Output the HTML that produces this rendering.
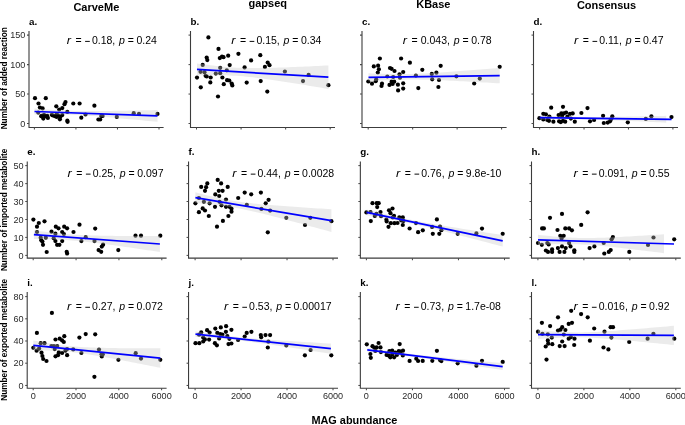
<!DOCTYPE html>
<html><head><meta charset="utf-8"><style>
html,body{margin:0;padding:0;background:#fff;width:685px;height:425px;overflow:hidden}
svg text{font-family:"Liberation Sans",sans-serif}
</style></head><body>
<svg width="685" height="425" viewBox="0 0 685 425" style="display:block;will-change:transform">
<rect width="685" height="425" fill="#fff"/>
<text x="73.4" y="10.5" font-size="11" font-weight="bold" fill="#000">CarveMe</text>
<text x="248.5" y="6.9" font-size="11" font-weight="bold" fill="#000">gapseq</text>
<text x="416.2" y="7.9" font-size="11" font-weight="bold" fill="#000">KBase</text>
<text x="576.9" y="9.4" font-size="11" font-weight="bold" fill="#000">Consensus</text>
<text transform="translate(7.3,78.25) rotate(-90)" text-anchor="middle" font-size="8.25" font-weight="bold" fill="#000">Number of added reaction</text>
<text transform="translate(7.3,209.9) rotate(-90)" text-anchor="middle" font-size="8.25" font-weight="bold" fill="#000">Number of imported metabolite</text>
<text transform="translate(7.3,339.85) rotate(-90)" text-anchor="middle" font-size="8.25" font-weight="bold" fill="#000">Number of exported metabolite</text>
<text x="354.4" y="423.6" text-anchor="middle" font-size="10.9" font-weight="bold" fill="#000">MAG abundance</text>
<text x="29.00" y="24.9" font-size="9.8" font-weight="bold" fill="#000">a.</text>
<circle cx="35.00" cy="98.20" r="2.1" fill="#000"/>
<circle cx="45.80" cy="98.20" r="2.1" fill="#000"/>
<circle cx="38.50" cy="103.50" r="2.1" fill="#000"/>
<circle cx="39.90" cy="107.60" r="2.1" fill="#000"/>
<circle cx="42.60" cy="108.40" r="2.1" fill="#000"/>
<circle cx="38.20" cy="112.60" r="2.1" fill="#000"/>
<circle cx="41.90" cy="115.80" r="2.1" fill="#000"/>
<circle cx="43.30" cy="118.60" r="2.1" fill="#000"/>
<circle cx="45.40" cy="116.20" r="2.1" fill="#000"/>
<circle cx="47.20" cy="115.80" r="2.1" fill="#000"/>
<circle cx="47.90" cy="117.90" r="2.1" fill="#000"/>
<circle cx="44.00" cy="114.80" r="2.1" fill="#000"/>
<circle cx="56.30" cy="106.30" r="2.1" fill="#000"/>
<circle cx="52.80" cy="115.50" r="2.1" fill="#000"/>
<circle cx="54.90" cy="116.20" r="2.1" fill="#000"/>
<circle cx="56.70" cy="116.90" r="2.1" fill="#000"/>
<circle cx="58.10" cy="115.50" r="2.1" fill="#000"/>
<circle cx="59.90" cy="119.30" r="2.1" fill="#000"/>
<circle cx="59.20" cy="109.50" r="2.1" fill="#000"/>
<circle cx="62.30" cy="108.10" r="2.1" fill="#000"/>
<circle cx="62.30" cy="115.10" r="2.1" fill="#000"/>
<circle cx="64.50" cy="104.20" r="2.1" fill="#000"/>
<circle cx="65.50" cy="102.10" r="2.1" fill="#000"/>
<circle cx="67.30" cy="111.90" r="2.1" fill="#000"/>
<circle cx="67.30" cy="120.70" r="2.1" fill="#000"/>
<circle cx="67.60" cy="121.80" r="2.1" fill="#000"/>
<circle cx="56.70" cy="114.00" r="2.1" fill="#000"/>
<circle cx="51.80" cy="114.80" r="2.1" fill="#000"/>
<circle cx="60.20" cy="116.90" r="2.1" fill="#000"/>
<circle cx="41.20" cy="116.20" r="2.1" fill="#000"/>
<circle cx="73.30" cy="103.50" r="2.1" fill="#000"/>
<circle cx="79.60" cy="103.50" r="2.1" fill="#000"/>
<circle cx="94.40" cy="105.70" r="2.1" fill="#000"/>
<circle cx="85.50" cy="114.50" r="2.1" fill="#000"/>
<circle cx="81.30" cy="117.70" r="2.1" fill="#000"/>
<circle cx="101.30" cy="115.90" r="2.1" fill="#000"/>
<circle cx="102.60" cy="115.90" r="2.1" fill="#000"/>
<circle cx="98.40" cy="119.50" r="2.1" fill="#000"/>
<circle cx="100.20" cy="119.50" r="2.1" fill="#000"/>
<circle cx="116.80" cy="116.90" r="2.1" fill="#000"/>
<circle cx="133.70" cy="113.20" r="2.1" fill="#000"/>
<circle cx="139.00" cy="113.90" r="2.1" fill="#000"/>
<circle cx="157.50" cy="113.90" r="2.1" fill="#000"/>
<path d="M34.50 108.60 L37.58 108.84 L40.65 109.08 L43.73 109.31 L46.80 109.53 L49.88 109.74 L52.95 109.94 L56.02 110.13 L59.10 110.30 L62.17 110.45 L65.25 110.59 L68.33 110.71 L71.40 110.81 L74.47 110.89 L77.55 110.96 L80.62 111.01 L83.70 111.04 L86.78 111.06 L89.85 111.07 L92.92 111.07 L96.00 111.06 L99.08 111.04 L102.15 111.02 L105.22 110.98 L108.30 110.95 L111.38 110.91 L114.45 110.86 L117.53 110.81 L120.60 110.76 L123.67 110.71 L126.75 110.65 L129.82 110.59 L132.90 110.53 L135.97 110.47 L139.05 110.40 L142.12 110.34 L145.20 110.27 L148.28 110.21 L151.35 110.14 L154.43 110.07 L157.50 110.00 L157.50 121.80 L154.43 121.51 L151.35 121.22 L148.28 120.93 L145.20 120.65 L142.12 120.36 L139.05 120.08 L135.97 119.79 L132.90 119.51 L129.82 119.23 L126.75 118.95 L123.67 118.67 L120.60 118.40 L117.53 118.13 L114.45 117.86 L111.38 117.59 L108.30 117.33 L105.22 117.08 L102.15 116.82 L99.08 116.58 L96.00 116.34 L92.92 116.11 L89.85 115.89 L86.78 115.68 L83.70 115.48 L80.62 115.29 L77.55 115.12 L74.47 114.97 L71.40 114.83 L68.33 114.71 L65.25 114.61 L62.17 114.53 L59.10 114.46 L56.02 114.41 L52.95 114.38 L49.88 114.36 L46.80 114.35 L43.73 114.35 L40.65 114.36 L37.58 114.38 L34.50 114.40 Z" fill="rgb(198,198,198)" fill-opacity="0.353"/>
<line x1="34.5" y1="111.5" x2="157.5" y2="115.9" stroke="#0000ff" stroke-width="1.7"/>
<path d="M29.00 31.00 V127.50 H163.60" fill="none" stroke="#3c3c3c" stroke-width="1.1"/>
<line x1="27.00" y1="123.50" x2="29.00" y2="123.50" stroke="#4a4a4a" stroke-width="1.05"/>
<text x="25.40" y="126.60" text-anchor="end" font-size="9.1" fill="#2a2a2a">0</text>
<line x1="27.00" y1="94.05" x2="29.00" y2="94.05" stroke="#4a4a4a" stroke-width="1.05"/>
<text x="25.40" y="97.15" text-anchor="end" font-size="9.1" fill="#2a2a2a">50</text>
<line x1="27.00" y1="64.60" x2="29.00" y2="64.60" stroke="#4a4a4a" stroke-width="1.05"/>
<text x="25.40" y="67.70" text-anchor="end" font-size="9.1" fill="#2a2a2a">100</text>
<line x1="27.00" y1="35.10" x2="29.00" y2="35.10" stroke="#4a4a4a" stroke-width="1.05"/>
<text x="25.40" y="38.20" text-anchor="end" font-size="9.1" fill="#2a2a2a">150</text>
<line x1="34.40" y1="127.50" x2="34.40" y2="129.50" stroke="#4a4a4a" stroke-width="1.05"/>
<line x1="75.93" y1="127.50" x2="75.93" y2="129.50" stroke="#4a4a4a" stroke-width="1.05"/>
<line x1="117.47" y1="127.50" x2="117.47" y2="129.50" stroke="#4a4a4a" stroke-width="1.05"/>
<line x1="159.00" y1="127.50" x2="159.00" y2="129.50" stroke="#4a4a4a" stroke-width="1.05"/>
<text transform="translate(66.69,43.95) scale(1.22,1)" font-size="10.5" font-style="italic" fill="#000">r</text>
<text x="75.47" y="43.95" font-size="10.5" fill="#000">=</text>
<rect x="85.10" y="40.90" width="4.7" height="0.95" fill="#000"/>
<text x="91.88" y="43.95" font-size="10.5" fill="#000">0.18,</text>
<text x="119.05" y="43.95" font-size="10.5" font-style="italic" fill="#000">p</text>
<text x="127.81" y="43.95" font-size="10.5" fill="#000">=</text>
<text x="136.42" y="43.95" font-size="10.5" fill="#000">0.24</text>
<text x="190.50" y="24.9" font-size="9.8" font-weight="bold" fill="#000">b.</text>
<circle cx="208.40" cy="37.40" r="2.1" fill="#000"/>
<circle cx="218.50" cy="48.90" r="2.1" fill="#000"/>
<circle cx="206.70" cy="57.60" r="2.1" fill="#000"/>
<circle cx="207.30" cy="60.10" r="2.1" fill="#000"/>
<circle cx="219.80" cy="58.10" r="2.1" fill="#000"/>
<circle cx="222.00" cy="56.50" r="2.1" fill="#000"/>
<circle cx="223.50" cy="57.20" r="2.1" fill="#000"/>
<circle cx="228.20" cy="55.70" r="2.1" fill="#000"/>
<circle cx="238.40" cy="53.80" r="2.1" fill="#000"/>
<circle cx="251.10" cy="60.40" r="2.1" fill="#000"/>
<circle cx="260.30" cy="55.20" r="2.1" fill="#000"/>
<circle cx="202.70" cy="64.90" r="2.1" fill="#000"/>
<circle cx="229.70" cy="65.10" r="2.1" fill="#000"/>
<circle cx="244.60" cy="67.40" r="2.1" fill="#000"/>
<circle cx="220.20" cy="67.80" r="2.1" fill="#000"/>
<circle cx="226.80" cy="70.30" r="2.1" fill="#000"/>
<circle cx="200.50" cy="71.80" r="2.1" fill="#000"/>
<circle cx="204.50" cy="72.20" r="2.1" fill="#000"/>
<circle cx="215.80" cy="73.60" r="2.1" fill="#000"/>
<circle cx="220.20" cy="73.20" r="2.1" fill="#000"/>
<circle cx="197.00" cy="77.60" r="2.1" fill="#000"/>
<circle cx="205.60" cy="75.80" r="2.1" fill="#000"/>
<circle cx="206.70" cy="76.50" r="2.1" fill="#000"/>
<circle cx="210.70" cy="77.50" r="2.1" fill="#000"/>
<circle cx="210.30" cy="82.40" r="2.1" fill="#000"/>
<circle cx="222.40" cy="77.50" r="2.1" fill="#000"/>
<circle cx="227.10" cy="80.20" r="2.1" fill="#000"/>
<circle cx="229.30" cy="80.50" r="2.1" fill="#000"/>
<circle cx="231.70" cy="83.60" r="2.1" fill="#000"/>
<circle cx="232.30" cy="85.40" r="2.1" fill="#000"/>
<circle cx="223.80" cy="84.20" r="2.1" fill="#000"/>
<circle cx="246.70" cy="82.60" r="2.1" fill="#000"/>
<circle cx="260.70" cy="81.10" r="2.1" fill="#000"/>
<circle cx="200.80" cy="87.30" r="2.1" fill="#000"/>
<circle cx="218.00" cy="96.50" r="2.1" fill="#000"/>
<circle cx="267.70" cy="62.60" r="2.1" fill="#000"/>
<circle cx="269.50" cy="65.20" r="2.1" fill="#000"/>
<circle cx="264.90" cy="66.90" r="2.1" fill="#000"/>
<circle cx="267.30" cy="91.60" r="2.1" fill="#000"/>
<circle cx="284.90" cy="71.50" r="2.1" fill="#000"/>
<circle cx="308.60" cy="74.90" r="2.1" fill="#000"/>
<circle cx="303.00" cy="81.10" r="2.1" fill="#000"/>
<circle cx="328.40" cy="85.20" r="2.1" fill="#000"/>
<path d="M197.00 63.43 L200.28 63.90 L203.57 64.36 L206.85 64.79 L210.14 65.22 L213.43 65.62 L216.71 65.99 L220.00 66.35 L223.28 66.67 L226.56 66.96 L229.85 67.22 L233.13 67.44 L236.42 67.63 L239.70 67.78 L242.99 67.90 L246.27 67.99 L249.56 68.04 L252.84 68.07 L256.13 68.07 L259.41 68.05 L262.70 68.01 L265.99 67.96 L269.27 67.89 L272.55 67.80 L275.84 67.71 L279.12 67.61 L282.41 67.50 L285.69 67.38 L288.98 67.25 L292.26 67.12 L295.55 66.99 L298.83 66.85 L302.12 66.70 L305.40 66.55 L308.69 66.40 L311.97 66.25 L315.26 66.09 L318.54 65.94 L321.83 65.78 L325.12 65.61 L328.40 65.45 L328.40 88.95 L325.12 88.40 L321.83 87.84 L318.54 87.29 L315.26 86.75 L311.97 86.20 L308.69 85.66 L305.40 85.12 L302.12 84.58 L298.83 84.04 L295.55 83.51 L292.26 82.99 L288.98 82.47 L285.69 81.95 L282.41 81.44 L279.12 80.94 L275.84 80.45 L272.55 79.97 L269.27 79.49 L265.99 79.03 L262.70 78.59 L259.41 78.16 L256.13 77.75 L252.84 77.36 L249.56 77.00 L246.27 76.66 L242.99 76.36 L239.70 76.09 L236.42 75.85 L233.13 75.65 L229.85 75.48 L226.56 75.35 L223.28 75.25 L220.00 75.18 L216.71 75.15 L213.43 75.13 L210.14 75.14 L206.85 75.18 L203.57 75.22 L200.28 75.29 L197.00 75.37 Z" fill="rgb(198,198,198)" fill-opacity="0.353"/>
<line x1="197" y1="69.4" x2="328.4" y2="77.2" stroke="#0000ff" stroke-width="1.7"/>
<path d="M190.50 31.00 V127.50 H335.00" fill="none" stroke="#3c3c3c" stroke-width="1.1"/>
<line x1="188.50" y1="123.50" x2="190.50" y2="123.50" stroke="#4a4a4a" stroke-width="1.05"/>
<line x1="188.50" y1="94.05" x2="190.50" y2="94.05" stroke="#4a4a4a" stroke-width="1.05"/>
<line x1="188.50" y1="64.60" x2="190.50" y2="64.60" stroke="#4a4a4a" stroke-width="1.05"/>
<line x1="188.50" y1="35.10" x2="190.50" y2="35.10" stroke="#4a4a4a" stroke-width="1.05"/>
<line x1="196.50" y1="127.50" x2="196.50" y2="129.50" stroke="#4a4a4a" stroke-width="1.05"/>
<line x1="241.07" y1="127.50" x2="241.07" y2="129.50" stroke="#4a4a4a" stroke-width="1.05"/>
<line x1="285.63" y1="127.50" x2="285.63" y2="129.50" stroke="#4a4a4a" stroke-width="1.05"/>
<line x1="330.20" y1="127.50" x2="330.20" y2="129.50" stroke="#4a4a4a" stroke-width="1.05"/>
<text transform="translate(231.19,43.95) scale(1.22,1)" font-size="10.5" font-style="italic" fill="#000">r</text>
<text x="239.97" y="43.95" font-size="10.5" fill="#000">=</text>
<rect x="249.60" y="40.90" width="4.7" height="0.95" fill="#000"/>
<text x="256.38" y="43.95" font-size="10.5" fill="#000">0.15,</text>
<text x="283.55" y="43.95" font-size="10.5" font-style="italic" fill="#000">p</text>
<text x="292.31" y="43.95" font-size="10.5" fill="#000">=</text>
<text x="300.92" y="43.95" font-size="10.5" fill="#000">0.34</text>
<text x="362.00" y="24.9" font-size="9.8" font-weight="bold" fill="#000">c.</text>
<circle cx="379.90" cy="58.50" r="2.1" fill="#000"/>
<circle cx="401.10" cy="58.50" r="2.1" fill="#000"/>
<circle cx="409.90" cy="62.70" r="2.1" fill="#000"/>
<circle cx="373.80" cy="66.40" r="2.1" fill="#000"/>
<circle cx="378.10" cy="65.70" r="2.1" fill="#000"/>
<circle cx="378.90" cy="69.30" r="2.1" fill="#000"/>
<circle cx="377.80" cy="72.50" r="2.1" fill="#000"/>
<circle cx="390.00" cy="68.00" r="2.1" fill="#000"/>
<circle cx="391.60" cy="68.80" r="2.1" fill="#000"/>
<circle cx="394.50" cy="71.00" r="2.1" fill="#000"/>
<circle cx="403.20" cy="72.00" r="2.1" fill="#000"/>
<circle cx="399.50" cy="74.30" r="2.1" fill="#000"/>
<circle cx="422.30" cy="69.80" r="2.1" fill="#000"/>
<circle cx="387.30" cy="76.50" r="2.1" fill="#000"/>
<circle cx="393.20" cy="77.00" r="2.1" fill="#000"/>
<circle cx="400.00" cy="77.70" r="2.1" fill="#000"/>
<circle cx="415.90" cy="75.60" r="2.1" fill="#000"/>
<circle cx="376.20" cy="79.60" r="2.1" fill="#000"/>
<circle cx="375.70" cy="81.20" r="2.1" fill="#000"/>
<circle cx="368.30" cy="81.50" r="2.1" fill="#000"/>
<circle cx="372.00" cy="83.70" r="2.1" fill="#000"/>
<circle cx="382.00" cy="83.70" r="2.1" fill="#000"/>
<circle cx="381.50" cy="86.00" r="2.1" fill="#000"/>
<circle cx="389.50" cy="84.90" r="2.1" fill="#000"/>
<circle cx="391.60" cy="81.70" r="2.1" fill="#000"/>
<circle cx="394.20" cy="81.70" r="2.1" fill="#000"/>
<circle cx="392.60" cy="83.90" r="2.1" fill="#000"/>
<circle cx="397.90" cy="84.70" r="2.1" fill="#000"/>
<circle cx="403.20" cy="83.30" r="2.1" fill="#000"/>
<circle cx="403.20" cy="88.60" r="2.1" fill="#000"/>
<circle cx="398.10" cy="90.40" r="2.1" fill="#000"/>
<circle cx="418.30" cy="88.10" r="2.1" fill="#000"/>
<circle cx="440.70" cy="65.80" r="2.1" fill="#000"/>
<circle cx="436.40" cy="72.70" r="2.1" fill="#000"/>
<circle cx="431.80" cy="73.90" r="2.1" fill="#000"/>
<circle cx="432.20" cy="79.30" r="2.1" fill="#000"/>
<circle cx="439.00" cy="80.00" r="2.1" fill="#000"/>
<circle cx="438.40" cy="87.00" r="2.1" fill="#000"/>
<circle cx="456.40" cy="76.30" r="2.1" fill="#000"/>
<circle cx="474.20" cy="83.50" r="2.1" fill="#000"/>
<circle cx="479.80" cy="78.60" r="2.1" fill="#000"/>
<circle cx="499.70" cy="66.80" r="2.1" fill="#000"/>
<path d="M368.50 73.24 L371.78 73.38 L375.06 73.51 L378.34 73.63 L381.62 73.73 L384.90 73.83 L388.18 73.91 L391.46 73.97 L394.74 74.02 L398.02 74.04 L401.30 74.05 L404.58 74.03 L407.86 73.99 L411.14 73.92 L414.42 73.84 L417.70 73.73 L420.98 73.60 L424.26 73.46 L427.54 73.29 L430.82 73.11 L434.10 72.92 L437.38 72.72 L440.66 72.51 L443.94 72.29 L447.22 72.06 L450.50 71.82 L453.78 71.58 L457.06 71.33 L460.34 71.08 L463.62 70.83 L466.90 70.57 L470.18 70.30 L473.46 70.04 L476.74 69.77 L480.02 69.50 L483.30 69.23 L486.58 68.96 L489.86 68.68 L493.14 68.41 L496.42 68.13 L499.70 67.85 L499.70 83.35 L496.42 83.16 L493.14 82.96 L489.86 82.77 L486.58 82.58 L483.30 82.39 L480.02 82.21 L476.74 82.02 L473.46 81.84 L470.18 81.66 L466.90 81.48 L463.62 81.31 L460.34 81.14 L457.06 80.97 L453.78 80.81 L450.50 80.65 L447.22 80.50 L443.94 80.36 L440.66 80.22 L437.38 80.09 L434.10 79.98 L430.82 79.87 L427.54 79.78 L424.26 79.70 L420.98 79.64 L417.70 79.60 L414.42 79.57 L411.14 79.57 L407.86 79.59 L404.58 79.64 L401.30 79.70 L398.02 79.79 L394.74 79.90 L391.46 80.03 L388.18 80.18 L384.90 80.35 L381.62 80.53 L378.34 80.72 L375.06 80.92 L371.78 81.14 L368.50 81.36 Z" fill="rgb(198,198,198)" fill-opacity="0.353"/>
<line x1="368.5" y1="77.3" x2="499.7" y2="75.6" stroke="#0000ff" stroke-width="1.7"/>
<path d="M362.00 31.00 V127.50 H506.60" fill="none" stroke="#3c3c3c" stroke-width="1.1"/>
<line x1="360.00" y1="123.50" x2="362.00" y2="123.50" stroke="#4a4a4a" stroke-width="1.05"/>
<line x1="360.00" y1="94.05" x2="362.00" y2="94.05" stroke="#4a4a4a" stroke-width="1.05"/>
<line x1="360.00" y1="64.60" x2="362.00" y2="64.60" stroke="#4a4a4a" stroke-width="1.05"/>
<line x1="360.00" y1="35.10" x2="362.00" y2="35.10" stroke="#4a4a4a" stroke-width="1.05"/>
<line x1="368.20" y1="127.50" x2="368.20" y2="129.50" stroke="#4a4a4a" stroke-width="1.05"/>
<line x1="412.67" y1="127.50" x2="412.67" y2="129.50" stroke="#4a4a4a" stroke-width="1.05"/>
<line x1="457.13" y1="127.50" x2="457.13" y2="129.50" stroke="#4a4a4a" stroke-width="1.05"/>
<line x1="501.60" y1="127.50" x2="501.60" y2="129.50" stroke="#4a4a4a" stroke-width="1.05"/>
<text transform="translate(402.79,43.95) scale(1.22,1)" font-size="10.5" font-style="italic" fill="#000">r</text>
<text x="411.57" y="43.95" font-size="10.5" fill="#000">=</text>
<text x="420.78" y="43.95" font-size="10.5" fill="#000">0.043,</text>
<text x="453.79" y="43.95" font-size="10.5" font-style="italic" fill="#000">p</text>
<text x="462.55" y="43.95" font-size="10.5" fill="#000">=</text>
<text x="471.16" y="43.95" font-size="10.5" fill="#000">0.78</text>
<text x="533.50" y="24.9" font-size="9.8" font-weight="bold" fill="#000">d.</text>
<circle cx="551.20" cy="107.70" r="2.1" fill="#000"/>
<circle cx="563.00" cy="106.80" r="2.1" fill="#000"/>
<circle cx="587.50" cy="108.10" r="2.1" fill="#000"/>
<circle cx="581.40" cy="113.00" r="2.1" fill="#000"/>
<circle cx="543.30" cy="113.80" r="2.1" fill="#000"/>
<circle cx="545.90" cy="114.30" r="2.1" fill="#000"/>
<circle cx="539.40" cy="118.20" r="2.1" fill="#000"/>
<circle cx="543.30" cy="119.50" r="2.1" fill="#000"/>
<circle cx="547.30" cy="120.00" r="2.1" fill="#000"/>
<circle cx="549.00" cy="120.80" r="2.1" fill="#000"/>
<circle cx="549.40" cy="116.50" r="2.1" fill="#000"/>
<circle cx="553.40" cy="121.70" r="2.1" fill="#000"/>
<circle cx="558.60" cy="115.10" r="2.1" fill="#000"/>
<circle cx="561.30" cy="113.40" r="2.1" fill="#000"/>
<circle cx="563.90" cy="113.40" r="2.1" fill="#000"/>
<circle cx="566.10" cy="112.50" r="2.1" fill="#000"/>
<circle cx="559.10" cy="121.30" r="2.1" fill="#000"/>
<circle cx="560.80" cy="122.10" r="2.1" fill="#000"/>
<circle cx="563.00" cy="120.80" r="2.1" fill="#000"/>
<circle cx="565.20" cy="121.70" r="2.1" fill="#000"/>
<circle cx="570.00" cy="113.80" r="2.1" fill="#000"/>
<circle cx="572.70" cy="113.40" r="2.1" fill="#000"/>
<circle cx="570.90" cy="118.60" r="2.1" fill="#000"/>
<circle cx="574.80" cy="121.70" r="2.1" fill="#000"/>
<circle cx="590.00" cy="121.30" r="2.1" fill="#000"/>
<circle cx="594.10" cy="120.00" r="2.1" fill="#000"/>
<circle cx="567.40" cy="116.50" r="2.1" fill="#000"/>
<circle cx="562.10" cy="116.00" r="2.1" fill="#000"/>
<circle cx="603.10" cy="115.80" r="2.1" fill="#000"/>
<circle cx="603.80" cy="123.00" r="2.1" fill="#000"/>
<circle cx="607.70" cy="122.60" r="2.1" fill="#000"/>
<circle cx="610.00" cy="121.30" r="2.1" fill="#000"/>
<circle cx="612.30" cy="116.30" r="2.1" fill="#000"/>
<circle cx="611.00" cy="119.30" r="2.1" fill="#000"/>
<circle cx="627.80" cy="122.30" r="2.1" fill="#000"/>
<circle cx="645.80" cy="118.90" r="2.1" fill="#000"/>
<circle cx="651.40" cy="116.30" r="2.1" fill="#000"/>
<circle cx="671.50" cy="117.10" r="2.1" fill="#000"/>
<path d="M539.80 115.74 L542.96 115.86 L546.12 115.99 L549.28 116.11 L552.44 116.22 L555.60 116.33 L558.76 116.44 L561.92 116.54 L565.08 116.62 L568.24 116.71 L571.40 116.78 L574.56 116.84 L577.72 116.89 L580.88 116.93 L584.04 116.96 L587.20 116.97 L590.36 116.98 L593.52 116.98 L596.68 116.97 L599.84 116.95 L603.00 116.93 L606.16 116.90 L609.32 116.86 L612.48 116.82 L615.64 116.78 L618.80 116.73 L621.96 116.69 L625.12 116.63 L628.28 116.58 L631.44 116.52 L634.60 116.47 L637.76 116.41 L640.92 116.35 L644.08 116.29 L647.24 116.22 L650.40 116.16 L653.56 116.09 L656.72 116.03 L659.88 115.96 L663.04 115.90 L666.20 115.83 L666.20 122.63 L663.04 122.48 L659.88 122.34 L656.72 122.19 L653.56 122.04 L650.40 121.90 L647.24 121.75 L644.08 121.61 L640.92 121.46 L637.76 121.32 L634.60 121.18 L631.44 121.04 L628.28 120.90 L625.12 120.77 L621.96 120.64 L618.80 120.50 L615.64 120.38 L612.48 120.25 L609.32 120.13 L606.16 120.01 L603.00 119.90 L599.84 119.80 L596.68 119.70 L593.52 119.61 L590.36 119.52 L587.20 119.45 L584.04 119.39 L580.88 119.33 L577.72 119.29 L574.56 119.26 L571.40 119.24 L568.24 119.23 L565.08 119.23 L561.92 119.24 L558.76 119.25 L555.60 119.27 L552.44 119.30 L549.28 119.34 L546.12 119.38 L542.96 119.42 L539.80 119.46 Z" fill="rgb(198,198,198)" fill-opacity="0.353"/>
<line x1="539.8" y1="117.6" x2="671.5" y2="119.3" stroke="#0000ff" stroke-width="1.7"/>
<path d="M533.50 31.00 V127.50 H678.00" fill="none" stroke="#3c3c3c" stroke-width="1.1"/>
<line x1="531.50" y1="123.50" x2="533.50" y2="123.50" stroke="#4a4a4a" stroke-width="1.05"/>
<line x1="531.50" y1="94.05" x2="533.50" y2="94.05" stroke="#4a4a4a" stroke-width="1.05"/>
<line x1="531.50" y1="64.60" x2="533.50" y2="64.60" stroke="#4a4a4a" stroke-width="1.05"/>
<line x1="531.50" y1="35.10" x2="533.50" y2="35.10" stroke="#4a4a4a" stroke-width="1.05"/>
<line x1="539.60" y1="127.50" x2="539.60" y2="129.50" stroke="#4a4a4a" stroke-width="1.05"/>
<line x1="584.03" y1="127.50" x2="584.03" y2="129.50" stroke="#4a4a4a" stroke-width="1.05"/>
<line x1="628.47" y1="127.50" x2="628.47" y2="129.50" stroke="#4a4a4a" stroke-width="1.05"/>
<line x1="672.90" y1="127.50" x2="672.90" y2="129.50" stroke="#4a4a4a" stroke-width="1.05"/>
<text transform="translate(574.09,43.95) scale(1.22,1)" font-size="10.5" font-style="italic" fill="#000">r</text>
<text x="582.87" y="43.95" font-size="10.5" fill="#000">=</text>
<rect x="592.50" y="40.90" width="4.7" height="0.95" fill="#000"/>
<text x="599.28" y="43.95" font-size="10.5" fill="#000">0.11,</text>
<text x="625.67" y="43.95" font-size="10.5" font-style="italic" fill="#000">p</text>
<text x="634.43" y="43.95" font-size="10.5" fill="#000">=</text>
<text x="643.04" y="43.95" font-size="10.5" fill="#000">0.47</text>
<text x="27.25" y="154.8" font-size="9.8" font-weight="bold" fill="#000">e.</text>
<circle cx="33.40" cy="219.60" r="2.1" fill="#000"/>
<circle cx="38.80" cy="223.00" r="2.1" fill="#000"/>
<circle cx="44.50" cy="221.30" r="2.1" fill="#000"/>
<circle cx="37.00" cy="226.70" r="2.1" fill="#000"/>
<circle cx="37.00" cy="232.00" r="2.1" fill="#000"/>
<circle cx="55.80" cy="226.70" r="2.1" fill="#000"/>
<circle cx="58.50" cy="228.30" r="2.1" fill="#000"/>
<circle cx="64.20" cy="226.70" r="2.1" fill="#000"/>
<circle cx="67.10" cy="228.30" r="2.1" fill="#000"/>
<circle cx="79.50" cy="224.70" r="2.1" fill="#000"/>
<circle cx="73.50" cy="232.00" r="2.1" fill="#000"/>
<circle cx="51.50" cy="231.70" r="2.1" fill="#000"/>
<circle cx="55.40" cy="233.70" r="2.1" fill="#000"/>
<circle cx="62.20" cy="232.00" r="2.1" fill="#000"/>
<circle cx="63.90" cy="234.00" r="2.1" fill="#000"/>
<circle cx="40.70" cy="237.70" r="2.1" fill="#000"/>
<circle cx="45.80" cy="237.70" r="2.1" fill="#000"/>
<circle cx="41.30" cy="240.30" r="2.1" fill="#000"/>
<circle cx="42.40" cy="241.60" r="2.1" fill="#000"/>
<circle cx="43.00" cy="244.80" r="2.1" fill="#000"/>
<circle cx="53.70" cy="238.20" r="2.1" fill="#000"/>
<circle cx="55.40" cy="241.10" r="2.1" fill="#000"/>
<circle cx="57.10" cy="244.80" r="2.1" fill="#000"/>
<circle cx="59.40" cy="244.80" r="2.1" fill="#000"/>
<circle cx="62.20" cy="241.10" r="2.1" fill="#000"/>
<circle cx="46.70" cy="252.00" r="2.1" fill="#000"/>
<circle cx="66.70" cy="251.80" r="2.1" fill="#000"/>
<circle cx="67.10" cy="253.50" r="2.1" fill="#000"/>
<circle cx="81.40" cy="241.10" r="2.1" fill="#000"/>
<circle cx="85.70" cy="237.20" r="2.1" fill="#000"/>
<circle cx="95.20" cy="228.60" r="2.1" fill="#000"/>
<circle cx="94.50" cy="241.10" r="2.1" fill="#000"/>
<circle cx="103.10" cy="244.70" r="2.1" fill="#000"/>
<circle cx="101.80" cy="246.60" r="2.1" fill="#000"/>
<circle cx="98.60" cy="250.10" r="2.1" fill="#000"/>
<circle cx="101.20" cy="251.80" r="2.1" fill="#000"/>
<circle cx="118.30" cy="250.10" r="2.1" fill="#000"/>
<circle cx="135.50" cy="235.70" r="2.1" fill="#000"/>
<circle cx="141.00" cy="235.70" r="2.1" fill="#000"/>
<circle cx="160.30" cy="235.70" r="2.1" fill="#000"/>
<path d="M33.90 230.32 L37.05 230.73 L40.20 231.14 L43.35 231.54 L46.50 231.93 L49.65 232.31 L52.80 232.66 L55.95 233.01 L59.10 233.33 L62.25 233.64 L65.40 233.92 L68.55 234.18 L71.70 234.42 L74.85 234.63 L78.00 234.83 L81.15 235.00 L84.30 235.15 L87.45 235.28 L90.60 235.39 L93.75 235.49 L96.90 235.58 L100.05 235.65 L103.20 235.71 L106.35 235.77 L109.50 235.81 L112.65 235.85 L115.80 235.88 L118.95 235.91 L122.10 235.93 L125.25 235.94 L128.40 235.96 L131.55 235.97 L134.70 235.97 L137.85 235.98 L141.00 235.98 L144.15 235.98 L147.30 235.98 L150.45 235.97 L153.60 235.97 L156.75 235.96 L159.90 235.95 L159.90 252.05 L156.75 251.57 L153.60 251.09 L150.45 250.62 L147.30 250.14 L144.15 249.67 L141.00 249.20 L137.85 248.73 L134.70 248.27 L131.55 247.80 L128.40 247.34 L125.25 246.89 L122.10 246.43 L118.95 245.98 L115.80 245.54 L112.65 245.10 L109.50 244.67 L106.35 244.24 L103.20 243.83 L100.05 243.42 L96.90 243.02 L93.75 242.64 L90.60 242.27 L87.45 241.91 L84.30 241.57 L81.15 241.25 L78.00 240.95 L74.85 240.68 L71.70 240.42 L68.55 240.19 L65.40 239.98 L62.25 239.79 L59.10 239.63 L55.95 239.48 L52.80 239.36 L49.65 239.24 L46.50 239.15 L43.35 239.07 L40.20 239.00 L37.05 238.94 L33.90 238.88 Z" fill="rgb(198,198,198)" fill-opacity="0.353"/>
<line x1="33.9" y1="234.6" x2="159.9" y2="244" stroke="#0000ff" stroke-width="1.7"/>
<path d="M27.25 161.40 V258.15 H166.60" fill="none" stroke="#3c3c3c" stroke-width="1.1"/>
<line x1="25.25" y1="255.40" x2="27.25" y2="255.40" stroke="#4a4a4a" stroke-width="1.05"/>
<text x="23.65" y="258.50" text-anchor="end" font-size="9.1" fill="#2a2a2a">0</text>
<line x1="25.25" y1="237.40" x2="27.25" y2="237.40" stroke="#4a4a4a" stroke-width="1.05"/>
<text x="23.65" y="240.50" text-anchor="end" font-size="9.1" fill="#2a2a2a">10</text>
<line x1="25.25" y1="219.50" x2="27.25" y2="219.50" stroke="#4a4a4a" stroke-width="1.05"/>
<text x="23.65" y="222.60" text-anchor="end" font-size="9.1" fill="#2a2a2a">20</text>
<line x1="25.25" y1="201.50" x2="27.25" y2="201.50" stroke="#4a4a4a" stroke-width="1.05"/>
<text x="23.65" y="204.60" text-anchor="end" font-size="9.1" fill="#2a2a2a">30</text>
<line x1="25.25" y1="183.60" x2="27.25" y2="183.60" stroke="#4a4a4a" stroke-width="1.05"/>
<text x="23.65" y="186.70" text-anchor="end" font-size="9.1" fill="#2a2a2a">40</text>
<line x1="25.25" y1="165.60" x2="27.25" y2="165.60" stroke="#4a4a4a" stroke-width="1.05"/>
<text x="23.65" y="168.70" text-anchor="end" font-size="9.1" fill="#2a2a2a">50</text>
<line x1="33.20" y1="258.15" x2="33.20" y2="260.15" stroke="#4a4a4a" stroke-width="1.05"/>
<line x1="76.07" y1="258.15" x2="76.07" y2="260.15" stroke="#4a4a4a" stroke-width="1.05"/>
<line x1="118.93" y1="258.15" x2="118.93" y2="260.15" stroke="#4a4a4a" stroke-width="1.05"/>
<line x1="161.80" y1="258.15" x2="161.80" y2="260.15" stroke="#4a4a4a" stroke-width="1.05"/>
<text transform="translate(67.49,176.7) scale(1.22,1)" font-size="10.5" font-style="italic" fill="#000">r</text>
<text x="76.27" y="176.7" font-size="10.5" fill="#000">=</text>
<rect x="85.90" y="173.65" width="4.7" height="0.95" fill="#000"/>
<text x="92.68" y="176.7" font-size="10.5" fill="#000">0.25,</text>
<text x="119.85" y="176.7" font-size="10.5" font-style="italic" fill="#000">p</text>
<text x="128.61" y="176.7" font-size="10.5" fill="#000">=</text>
<text x="137.22" y="176.7" font-size="10.5" fill="#000">0.097</text>
<text x="188.55" y="154.8" font-size="9.8" font-weight="bold" fill="#000">f.</text>
<circle cx="217.70" cy="179.90" r="2.1" fill="#000"/>
<circle cx="207.30" cy="183.40" r="2.1" fill="#000"/>
<circle cx="221.10" cy="183.40" r="2.1" fill="#000"/>
<circle cx="201.20" cy="186.90" r="2.1" fill="#000"/>
<circle cx="206.10" cy="187.20" r="2.1" fill="#000"/>
<circle cx="227.70" cy="186.90" r="2.1" fill="#000"/>
<circle cx="205.00" cy="190.80" r="2.1" fill="#000"/>
<circle cx="218.80" cy="190.80" r="2.1" fill="#000"/>
<circle cx="222.60" cy="190.80" r="2.1" fill="#000"/>
<circle cx="215.30" cy="194.40" r="2.1" fill="#000"/>
<circle cx="219.20" cy="196.00" r="2.1" fill="#000"/>
<circle cx="244.70" cy="192.60" r="2.1" fill="#000"/>
<circle cx="251.20" cy="194.30" r="2.1" fill="#000"/>
<circle cx="238.20" cy="198.00" r="2.1" fill="#000"/>
<circle cx="198.90" cy="198.00" r="2.1" fill="#000"/>
<circle cx="226.00" cy="199.50" r="2.1" fill="#000"/>
<circle cx="195.40" cy="203.30" r="2.1" fill="#000"/>
<circle cx="203.90" cy="201.80" r="2.1" fill="#000"/>
<circle cx="209.60" cy="203.30" r="2.1" fill="#000"/>
<circle cx="219.60" cy="201.80" r="2.1" fill="#000"/>
<circle cx="221.50" cy="205.30" r="2.1" fill="#000"/>
<circle cx="215.00" cy="206.80" r="2.1" fill="#000"/>
<circle cx="226.00" cy="206.80" r="2.1" fill="#000"/>
<circle cx="229.50" cy="206.80" r="2.1" fill="#000"/>
<circle cx="231.50" cy="208.70" r="2.1" fill="#000"/>
<circle cx="231.50" cy="211.70" r="2.1" fill="#000"/>
<circle cx="202.70" cy="208.40" r="2.1" fill="#000"/>
<circle cx="205.00" cy="210.50" r="2.1" fill="#000"/>
<circle cx="198.90" cy="212.20" r="2.1" fill="#000"/>
<circle cx="208.80" cy="216.00" r="2.1" fill="#000"/>
<circle cx="228.40" cy="216.00" r="2.1" fill="#000"/>
<circle cx="222.90" cy="220.90" r="2.1" fill="#000"/>
<circle cx="217.00" cy="226.70" r="2.1" fill="#000"/>
<circle cx="246.80" cy="204.80" r="2.1" fill="#000"/>
<circle cx="260.90" cy="192.60" r="2.1" fill="#000"/>
<circle cx="268.60" cy="199.80" r="2.1" fill="#000"/>
<circle cx="265.70" cy="203.30" r="2.1" fill="#000"/>
<circle cx="261.40" cy="208.90" r="2.1" fill="#000"/>
<circle cx="270.10" cy="210.60" r="2.1" fill="#000"/>
<circle cx="286.30" cy="217.80" r="2.1" fill="#000"/>
<circle cx="310.30" cy="217.80" r="2.1" fill="#000"/>
<circle cx="305.00" cy="225.00" r="2.1" fill="#000"/>
<circle cx="267.80" cy="232.30" r="2.1" fill="#000"/>
<circle cx="331.40" cy="221.20" r="2.1" fill="#000"/>
<path d="M195.40 192.37 L198.80 193.23 L202.20 194.08 L205.60 194.92 L209.00 195.74 L212.40 196.54 L215.80 197.31 L219.20 198.06 L222.60 198.78 L226.00 199.46 L229.40 200.10 L232.80 200.70 L236.20 201.25 L239.60 201.77 L243.00 202.24 L246.40 202.68 L249.80 203.09 L253.20 203.46 L256.60 203.81 L260.00 204.14 L263.40 204.46 L266.80 204.76 L270.20 205.04 L273.60 205.32 L277.00 205.58 L280.40 205.84 L283.80 206.09 L287.20 206.34 L290.60 206.58 L294.00 206.81 L297.40 207.05 L300.80 207.28 L304.20 207.50 L307.60 207.73 L311.00 207.95 L314.40 208.17 L317.80 208.39 L321.20 208.61 L324.60 208.82 L328.00 209.04 L331.40 209.25 L331.40 231.95 L328.00 231.02 L324.60 230.09 L321.20 229.16 L317.80 228.23 L314.40 227.30 L311.00 226.38 L307.60 225.46 L304.20 224.54 L300.80 223.62 L297.40 222.70 L294.00 221.79 L290.60 220.88 L287.20 219.98 L283.80 219.08 L280.40 218.19 L277.00 217.30 L273.60 216.42 L270.20 215.55 L266.80 214.69 L263.40 213.84 L260.00 213.01 L256.60 212.20 L253.20 211.40 L249.80 210.63 L246.40 209.89 L243.00 209.19 L239.60 208.52 L236.20 207.89 L232.80 207.30 L229.40 206.75 L226.00 206.25 L222.60 205.78 L219.20 205.35 L215.80 204.96 L212.40 204.59 L209.00 204.24 L205.60 203.92 L202.20 203.61 L198.80 203.31 L195.40 203.03 Z" fill="rgb(198,198,198)" fill-opacity="0.353"/>
<line x1="195.4" y1="197.7" x2="331.4" y2="220.6" stroke="#0000ff" stroke-width="1.7"/>
<path d="M188.55 161.40 V258.15 H338.00" fill="none" stroke="#3c3c3c" stroke-width="1.1"/>
<line x1="186.55" y1="255.40" x2="188.55" y2="255.40" stroke="#4a4a4a" stroke-width="1.05"/>
<line x1="186.55" y1="237.40" x2="188.55" y2="237.40" stroke="#4a4a4a" stroke-width="1.05"/>
<line x1="186.55" y1="219.50" x2="188.55" y2="219.50" stroke="#4a4a4a" stroke-width="1.05"/>
<line x1="186.55" y1="201.50" x2="188.55" y2="201.50" stroke="#4a4a4a" stroke-width="1.05"/>
<line x1="186.55" y1="183.60" x2="188.55" y2="183.60" stroke="#4a4a4a" stroke-width="1.05"/>
<line x1="186.55" y1="165.60" x2="188.55" y2="165.60" stroke="#4a4a4a" stroke-width="1.05"/>
<line x1="195.10" y1="258.15" x2="195.10" y2="260.15" stroke="#4a4a4a" stroke-width="1.05"/>
<line x1="241.07" y1="258.15" x2="241.07" y2="260.15" stroke="#4a4a4a" stroke-width="1.05"/>
<line x1="287.03" y1="258.15" x2="287.03" y2="260.15" stroke="#4a4a4a" stroke-width="1.05"/>
<line x1="333.00" y1="258.15" x2="333.00" y2="260.15" stroke="#4a4a4a" stroke-width="1.05"/>
<text transform="translate(232.34,176.7) scale(1.22,1)" font-size="10.5" font-style="italic" fill="#000">r</text>
<text x="241.12" y="176.7" font-size="10.5" fill="#000">=</text>
<rect x="250.75" y="173.65" width="4.7" height="0.95" fill="#000"/>
<text x="257.53" y="176.7" font-size="10.5" fill="#000">0.44,</text>
<text x="284.70" y="176.7" font-size="10.5" font-style="italic" fill="#000">p</text>
<text x="293.46" y="176.7" font-size="10.5" fill="#000">=</text>
<text x="302.07" y="176.7" font-size="10.5" fill="#000">0.0028</text>
<text x="360.35" y="154.8" font-size="9.8" font-weight="bold" fill="#000">g.</text>
<circle cx="372.50" cy="203.20" r="2.1" fill="#000"/>
<circle cx="376.70" cy="203.20" r="2.1" fill="#000"/>
<circle cx="378.70" cy="203.20" r="2.1" fill="#000"/>
<circle cx="377.20" cy="207.10" r="2.1" fill="#000"/>
<circle cx="366.40" cy="212.40" r="2.1" fill="#000"/>
<circle cx="370.50" cy="212.10" r="2.1" fill="#000"/>
<circle cx="380.50" cy="212.10" r="2.1" fill="#000"/>
<circle cx="374.80" cy="215.90" r="2.1" fill="#000"/>
<circle cx="381.10" cy="216.20" r="2.1" fill="#000"/>
<circle cx="376.40" cy="213.80" r="2.1" fill="#000"/>
<circle cx="392.50" cy="208.50" r="2.1" fill="#000"/>
<circle cx="389.00" cy="210.30" r="2.1" fill="#000"/>
<circle cx="390.50" cy="213.20" r="2.1" fill="#000"/>
<circle cx="394.00" cy="215.90" r="2.1" fill="#000"/>
<circle cx="392.80" cy="217.40" r="2.1" fill="#000"/>
<circle cx="399.30" cy="217.40" r="2.1" fill="#000"/>
<circle cx="402.80" cy="217.40" r="2.1" fill="#000"/>
<circle cx="401.10" cy="220.30" r="2.1" fill="#000"/>
<circle cx="403.40" cy="220.90" r="2.1" fill="#000"/>
<circle cx="386.40" cy="219.70" r="2.1" fill="#000"/>
<circle cx="386.70" cy="221.50" r="2.1" fill="#000"/>
<circle cx="390.80" cy="223.20" r="2.1" fill="#000"/>
<circle cx="394.40" cy="223.20" r="2.1" fill="#000"/>
<circle cx="397.50" cy="223.00" r="2.1" fill="#000"/>
<circle cx="388.50" cy="226.80" r="2.1" fill="#000"/>
<circle cx="402.80" cy="225.00" r="2.1" fill="#000"/>
<circle cx="370.80" cy="221.10" r="2.1" fill="#000"/>
<circle cx="409.60" cy="228.50" r="2.1" fill="#000"/>
<circle cx="416.00" cy="223.10" r="2.1" fill="#000"/>
<circle cx="418.10" cy="232.20" r="2.1" fill="#000"/>
<circle cx="422.80" cy="230.30" r="2.1" fill="#000"/>
<circle cx="436.90" cy="219.40" r="2.1" fill="#000"/>
<circle cx="432.10" cy="226.90" r="2.1" fill="#000"/>
<circle cx="440.00" cy="226.50" r="2.1" fill="#000"/>
<circle cx="441.40" cy="230.20" r="2.1" fill="#000"/>
<circle cx="432.80" cy="233.80" r="2.1" fill="#000"/>
<circle cx="439.30" cy="233.80" r="2.1" fill="#000"/>
<circle cx="457.70" cy="233.80" r="2.1" fill="#000"/>
<circle cx="476.40" cy="233.40" r="2.1" fill="#000"/>
<circle cx="482.00" cy="228.60" r="2.1" fill="#000"/>
<circle cx="502.70" cy="233.80" r="2.1" fill="#000"/>
<path d="M366.60 209.54 L370.00 210.39 L373.41 211.25 L376.81 212.09 L380.21 212.92 L383.61 213.75 L387.02 214.56 L390.42 215.37 L393.82 216.15 L397.22 216.92 L400.62 217.67 L404.03 218.41 L407.43 219.12 L410.83 219.81 L414.24 220.48 L417.64 221.13 L421.04 221.77 L424.44 222.39 L427.85 223.00 L431.25 223.59 L434.65 224.18 L438.05 224.76 L441.46 225.33 L444.86 225.89 L448.26 226.45 L451.66 227.01 L455.06 227.56 L458.47 228.10 L461.87 228.65 L465.27 229.19 L468.68 229.73 L472.08 230.27 L475.48 230.80 L478.88 231.34 L482.28 231.87 L485.69 232.40 L489.09 232.93 L492.49 233.46 L495.89 233.99 L499.30 234.52 L502.70 235.05 L502.70 246.55 L499.30 245.66 L495.89 244.77 L492.49 243.88 L489.09 242.99 L485.69 242.10 L482.28 241.21 L478.88 240.32 L475.48 239.44 L472.08 238.55 L468.68 237.67 L465.27 236.79 L461.87 235.91 L458.47 235.04 L455.06 234.16 L451.66 233.29 L448.26 232.43 L444.86 231.57 L441.46 230.71 L438.05 229.86 L434.65 229.02 L431.25 228.19 L427.85 227.36 L424.44 226.55 L421.04 225.75 L417.64 224.97 L414.24 224.20 L410.83 223.45 L407.43 222.72 L404.03 222.01 L400.62 221.33 L397.22 220.66 L393.82 220.01 L390.42 219.37 L387.02 218.76 L383.61 218.15 L380.21 217.56 L376.81 216.97 L373.41 216.39 L370.00 215.83 L366.60 215.26 Z" fill="rgb(198,198,198)" fill-opacity="0.353"/>
<line x1="366.6" y1="212.4" x2="502.7" y2="240.8" stroke="#0000ff" stroke-width="1.7"/>
<path d="M360.35 161.40 V258.15 H509.70" fill="none" stroke="#3c3c3c" stroke-width="1.1"/>
<line x1="358.35" y1="255.40" x2="360.35" y2="255.40" stroke="#4a4a4a" stroke-width="1.05"/>
<line x1="358.35" y1="237.40" x2="360.35" y2="237.40" stroke="#4a4a4a" stroke-width="1.05"/>
<line x1="358.35" y1="219.50" x2="360.35" y2="219.50" stroke="#4a4a4a" stroke-width="1.05"/>
<line x1="358.35" y1="201.50" x2="360.35" y2="201.50" stroke="#4a4a4a" stroke-width="1.05"/>
<line x1="358.35" y1="183.60" x2="360.35" y2="183.60" stroke="#4a4a4a" stroke-width="1.05"/>
<line x1="358.35" y1="165.60" x2="360.35" y2="165.60" stroke="#4a4a4a" stroke-width="1.05"/>
<line x1="366.40" y1="258.15" x2="366.40" y2="260.15" stroke="#4a4a4a" stroke-width="1.05"/>
<line x1="412.43" y1="258.15" x2="412.43" y2="260.15" stroke="#4a4a4a" stroke-width="1.05"/>
<line x1="458.47" y1="258.15" x2="458.47" y2="260.15" stroke="#4a4a4a" stroke-width="1.05"/>
<line x1="504.50" y1="258.15" x2="504.50" y2="260.15" stroke="#4a4a4a" stroke-width="1.05"/>
<text transform="translate(396.09,176.7) scale(1.22,1)" font-size="10.5" font-style="italic" fill="#000">r</text>
<text x="404.87" y="176.7" font-size="10.5" fill="#000">=</text>
<rect x="414.50" y="173.65" width="4.7" height="0.95" fill="#000"/>
<text x="421.28" y="176.7" font-size="10.5" fill="#000">0.76,</text>
<text x="448.45" y="176.7" font-size="10.5" font-style="italic" fill="#000">p</text>
<text x="457.21" y="176.7" font-size="10.5" fill="#000">=</text>
<text x="465.82" y="176.7" font-size="10.5" fill="#000">9.8e-10</text>
<text x="531.50" y="154.8" font-size="9.8" font-weight="bold" fill="#000">h.</text>
<circle cx="562.00" cy="213.90" r="2.1" fill="#000"/>
<circle cx="550.00" cy="217.80" r="2.1" fill="#000"/>
<circle cx="587.60" cy="212.30" r="2.1" fill="#000"/>
<circle cx="581.20" cy="224.90" r="2.1" fill="#000"/>
<circle cx="542.10" cy="228.40" r="2.1" fill="#000"/>
<circle cx="543.90" cy="228.40" r="2.1" fill="#000"/>
<circle cx="557.50" cy="230.00" r="2.1" fill="#000"/>
<circle cx="565.30" cy="228.40" r="2.1" fill="#000"/>
<circle cx="569.10" cy="228.40" r="2.1" fill="#000"/>
<circle cx="571.90" cy="230.30" r="2.1" fill="#000"/>
<circle cx="560.30" cy="235.80" r="2.1" fill="#000"/>
<circle cx="563.70" cy="235.80" r="2.1" fill="#000"/>
<circle cx="561.60" cy="238.50" r="2.1" fill="#000"/>
<circle cx="538.00" cy="243.00" r="2.1" fill="#000"/>
<circle cx="541.80" cy="244.80" r="2.1" fill="#000"/>
<circle cx="547.30" cy="243.00" r="2.1" fill="#000"/>
<circle cx="548.70" cy="244.40" r="2.1" fill="#000"/>
<circle cx="569.10" cy="243.00" r="2.1" fill="#000"/>
<circle cx="545.90" cy="250.50" r="2.1" fill="#000"/>
<circle cx="548.00" cy="251.90" r="2.1" fill="#000"/>
<circle cx="552.10" cy="249.40" r="2.1" fill="#000"/>
<circle cx="552.10" cy="251.90" r="2.1" fill="#000"/>
<circle cx="557.90" cy="248.10" r="2.1" fill="#000"/>
<circle cx="562.00" cy="246.40" r="2.1" fill="#000"/>
<circle cx="565.70" cy="248.10" r="2.1" fill="#000"/>
<circle cx="559.60" cy="251.90" r="2.1" fill="#000"/>
<circle cx="564.40" cy="251.90" r="2.1" fill="#000"/>
<circle cx="570.50" cy="246.40" r="2.1" fill="#000"/>
<circle cx="574.30" cy="250.30" r="2.1" fill="#000"/>
<circle cx="574.30" cy="251.90" r="2.1" fill="#000"/>
<circle cx="589.60" cy="248.10" r="2.1" fill="#000"/>
<circle cx="594.40" cy="246.40" r="2.1" fill="#000"/>
<circle cx="603.70" cy="243.00" r="2.1" fill="#000"/>
<circle cx="612.90" cy="237.10" r="2.1" fill="#000"/>
<circle cx="611.60" cy="239.30" r="2.1" fill="#000"/>
<circle cx="604.30" cy="253.50" r="2.1" fill="#000"/>
<circle cx="608.80" cy="251.90" r="2.1" fill="#000"/>
<circle cx="610.70" cy="250.10" r="2.1" fill="#000"/>
<circle cx="629.30" cy="251.90" r="2.1" fill="#000"/>
<circle cx="648.00" cy="245.00" r="2.1" fill="#000"/>
<circle cx="653.50" cy="237.50" r="2.1" fill="#000"/>
<circle cx="674.20" cy="239.30" r="2.1" fill="#000"/>
<path d="M538.00 234.80 L541.15 235.14 L544.30 235.48 L547.45 235.80 L550.60 236.10 L553.75 236.40 L556.90 236.68 L560.05 236.93 L563.20 237.17 L566.35 237.38 L569.50 237.56 L572.65 237.72 L575.80 237.84 L578.95 237.93 L582.10 237.99 L585.25 238.01 L588.40 238.01 L591.55 237.98 L594.70 237.93 L597.85 237.85 L601.00 237.76 L604.15 237.65 L607.30 237.53 L610.45 237.40 L613.60 237.25 L616.75 237.10 L619.90 236.94 L623.05 236.77 L626.20 236.59 L629.35 236.42 L632.50 236.23 L635.65 236.05 L638.80 235.86 L641.95 235.66 L645.10 235.47 L648.25 235.27 L651.40 235.07 L654.55 234.86 L657.70 234.66 L660.85 234.46 L664.00 234.25 L664.00 253.15 L660.85 252.75 L657.70 252.36 L654.55 251.96 L651.40 251.57 L648.25 251.18 L645.10 250.79 L641.95 250.41 L638.80 250.02 L635.65 249.64 L632.50 249.27 L629.35 248.89 L626.20 248.52 L623.05 248.16 L619.90 247.80 L616.75 247.45 L613.60 247.11 L610.45 246.77 L607.30 246.45 L604.15 246.14 L601.00 245.84 L597.85 245.55 L594.70 245.29 L591.55 245.05 L588.40 244.83 L585.25 244.64 L582.10 244.47 L578.95 244.34 L575.80 244.24 L572.65 244.17 L569.50 244.14 L566.35 244.13 L563.20 244.15 L560.05 244.20 L556.90 244.26 L553.75 244.35 L550.60 244.46 L547.45 244.57 L544.30 244.70 L541.15 244.85 L538.00 245.00 Z" fill="rgb(198,198,198)" fill-opacity="0.353"/>
<line x1="538" y1="239.9" x2="674" y2="244" stroke="#0000ff" stroke-width="1.7"/>
<path d="M531.50 161.40 V258.15 H680.80" fill="none" stroke="#3c3c3c" stroke-width="1.1"/>
<line x1="529.50" y1="255.40" x2="531.50" y2="255.40" stroke="#4a4a4a" stroke-width="1.05"/>
<line x1="529.50" y1="237.40" x2="531.50" y2="237.40" stroke="#4a4a4a" stroke-width="1.05"/>
<line x1="529.50" y1="219.50" x2="531.50" y2="219.50" stroke="#4a4a4a" stroke-width="1.05"/>
<line x1="529.50" y1="201.50" x2="531.50" y2="201.50" stroke="#4a4a4a" stroke-width="1.05"/>
<line x1="529.50" y1="183.60" x2="531.50" y2="183.60" stroke="#4a4a4a" stroke-width="1.05"/>
<line x1="529.50" y1="165.60" x2="531.50" y2="165.60" stroke="#4a4a4a" stroke-width="1.05"/>
<line x1="537.90" y1="258.15" x2="537.90" y2="260.15" stroke="#4a4a4a" stroke-width="1.05"/>
<line x1="583.87" y1="258.15" x2="583.87" y2="260.15" stroke="#4a4a4a" stroke-width="1.05"/>
<line x1="629.83" y1="258.15" x2="629.83" y2="260.15" stroke="#4a4a4a" stroke-width="1.05"/>
<line x1="675.80" y1="258.15" x2="675.80" y2="260.15" stroke="#4a4a4a" stroke-width="1.05"/>
<text transform="translate(573.49,176.7) scale(1.22,1)" font-size="10.5" font-style="italic" fill="#000">r</text>
<text x="582.27" y="176.7" font-size="10.5" fill="#000">=</text>
<rect x="591.90" y="173.65" width="4.7" height="0.95" fill="#000"/>
<text x="598.68" y="176.7" font-size="10.5" fill="#000">0.091,</text>
<text x="631.69" y="176.7" font-size="10.5" font-style="italic" fill="#000">p</text>
<text x="640.45" y="176.7" font-size="10.5" fill="#000">=</text>
<text x="649.06" y="176.7" font-size="10.5" fill="#000">0.55</text>
<text x="27.20" y="285.8" font-size="9.8" font-weight="bold" fill="#000">i.</text>
<circle cx="51.90" cy="312.90" r="2.1" fill="#000"/>
<circle cx="36.90" cy="332.90" r="2.1" fill="#000"/>
<circle cx="64.30" cy="336.20" r="2.1" fill="#000"/>
<circle cx="79.40" cy="337.60" r="2.1" fill="#000"/>
<circle cx="85.70" cy="334.10" r="2.1" fill="#000"/>
<circle cx="55.50" cy="339.50" r="2.1" fill="#000"/>
<circle cx="59.70" cy="338.70" r="2.1" fill="#000"/>
<circle cx="62.10" cy="340.40" r="2.1" fill="#000"/>
<circle cx="63.80" cy="342.00" r="2.1" fill="#000"/>
<circle cx="40.70" cy="343.20" r="2.1" fill="#000"/>
<circle cx="44.50" cy="343.20" r="2.1" fill="#000"/>
<circle cx="33.30" cy="347.80" r="2.1" fill="#000"/>
<circle cx="36.60" cy="350.70" r="2.1" fill="#000"/>
<circle cx="39.10" cy="348.60" r="2.1" fill="#000"/>
<circle cx="41.50" cy="352.70" r="2.1" fill="#000"/>
<circle cx="42.40" cy="356.00" r="2.1" fill="#000"/>
<circle cx="43.20" cy="359.00" r="2.1" fill="#000"/>
<circle cx="46.50" cy="361.00" r="2.1" fill="#000"/>
<circle cx="51.40" cy="346.10" r="2.1" fill="#000"/>
<circle cx="53.90" cy="346.10" r="2.1" fill="#000"/>
<circle cx="57.20" cy="346.10" r="2.1" fill="#000"/>
<circle cx="54.70" cy="349.10" r="2.1" fill="#000"/>
<circle cx="58.80" cy="352.40" r="2.1" fill="#000"/>
<circle cx="55.50" cy="356.30" r="2.1" fill="#000"/>
<circle cx="58.00" cy="355.20" r="2.1" fill="#000"/>
<circle cx="62.10" cy="353.00" r="2.1" fill="#000"/>
<circle cx="65.40" cy="350.70" r="2.1" fill="#000"/>
<circle cx="67.10" cy="349.10" r="2.1" fill="#000"/>
<circle cx="67.10" cy="355.20" r="2.1" fill="#000"/>
<circle cx="73.20" cy="349.40" r="2.1" fill="#000"/>
<circle cx="81.40" cy="353.00" r="2.1" fill="#000"/>
<circle cx="95.20" cy="334.30" r="2.1" fill="#000"/>
<circle cx="99.00" cy="349.60" r="2.1" fill="#000"/>
<circle cx="101.50" cy="354.20" r="2.1" fill="#000"/>
<circle cx="102.80" cy="354.20" r="2.1" fill="#000"/>
<circle cx="101.80" cy="356.50" r="2.1" fill="#000"/>
<circle cx="118.40" cy="359.80" r="2.1" fill="#000"/>
<circle cx="135.70" cy="353.20" r="2.1" fill="#000"/>
<circle cx="141.00" cy="358.60" r="2.1" fill="#000"/>
<circle cx="160.30" cy="359.80" r="2.1" fill="#000"/>
<circle cx="94.40" cy="376.80" r="2.1" fill="#000"/>
<path d="M33.30 340.50 L36.47 341.07 L39.65 341.64 L42.83 342.20 L46.00 342.74 L49.17 343.27 L52.35 343.78 L55.52 344.26 L58.70 344.72 L61.88 345.15 L65.05 345.55 L68.22 345.91 L71.40 346.24 L74.58 346.53 L77.75 346.78 L80.93 347.00 L84.10 347.19 L87.28 347.35 L90.45 347.49 L93.62 347.61 L96.80 347.71 L99.98 347.80 L103.15 347.87 L106.33 347.94 L109.50 348.00 L112.68 348.05 L115.85 348.09 L119.03 348.13 L122.20 348.16 L125.38 348.19 L128.55 348.21 L131.73 348.24 L134.90 348.26 L138.08 348.27 L141.25 348.29 L144.43 348.30 L147.60 348.32 L150.78 348.33 L153.95 348.34 L157.12 348.34 L160.30 348.35 L160.30 367.85 L157.12 367.22 L153.95 366.58 L150.78 365.95 L147.60 365.32 L144.43 364.70 L141.25 364.07 L138.08 363.45 L134.90 362.82 L131.73 362.20 L128.55 361.59 L125.38 360.97 L122.20 360.36 L119.03 359.75 L115.85 359.15 L112.68 358.55 L109.50 357.96 L106.33 357.38 L103.15 356.81 L99.98 356.24 L96.80 355.69 L93.62 355.15 L90.45 354.63 L87.28 354.13 L84.10 353.65 L80.93 353.20 L77.75 352.78 L74.58 352.39 L71.40 352.04 L68.22 351.73 L65.05 351.45 L61.88 351.21 L58.70 351.00 L55.52 350.82 L52.35 350.66 L49.17 350.53 L46.00 350.42 L42.83 350.32 L39.65 350.24 L36.47 350.17 L33.30 350.10 Z" fill="rgb(198,198,198)" fill-opacity="0.353"/>
<line x1="33.3" y1="345.3" x2="160.3" y2="358.1" stroke="#0000ff" stroke-width="1.7"/>
<path d="M27.20 292.10 V388.20 H166.60" fill="none" stroke="#3c3c3c" stroke-width="1.1"/>
<line x1="25.20" y1="385.45" x2="27.20" y2="385.45" stroke="#4a4a4a" stroke-width="1.05"/>
<text x="23.60" y="388.55" text-anchor="end" font-size="9.1" fill="#2a2a2a">0</text>
<line x1="25.20" y1="363.20" x2="27.20" y2="363.20" stroke="#4a4a4a" stroke-width="1.05"/>
<text x="23.60" y="366.30" text-anchor="end" font-size="9.1" fill="#2a2a2a">20</text>
<line x1="25.20" y1="341.00" x2="27.20" y2="341.00" stroke="#4a4a4a" stroke-width="1.05"/>
<text x="23.60" y="344.10" text-anchor="end" font-size="9.1" fill="#2a2a2a">40</text>
<line x1="25.20" y1="318.80" x2="27.20" y2="318.80" stroke="#4a4a4a" stroke-width="1.05"/>
<text x="23.60" y="321.90" text-anchor="end" font-size="9.1" fill="#2a2a2a">60</text>
<line x1="25.20" y1="296.60" x2="27.20" y2="296.60" stroke="#4a4a4a" stroke-width="1.05"/>
<text x="23.60" y="299.70" text-anchor="end" font-size="9.1" fill="#2a2a2a">80</text>
<line x1="33.20" y1="388.20" x2="33.20" y2="390.20" stroke="#4a4a4a" stroke-width="1.05"/>
<text x="33.20" y="398.60" text-anchor="middle" font-size="9.1" fill="#2a2a2a">0</text>
<line x1="76.00" y1="388.20" x2="76.00" y2="390.20" stroke="#4a4a4a" stroke-width="1.05"/>
<text x="76.00" y="398.60" text-anchor="middle" font-size="9.1" fill="#2a2a2a">2000</text>
<line x1="118.80" y1="388.20" x2="118.80" y2="390.20" stroke="#4a4a4a" stroke-width="1.05"/>
<text x="118.80" y="398.60" text-anchor="middle" font-size="9.1" fill="#2a2a2a">4000</text>
<line x1="161.60" y1="388.20" x2="161.60" y2="390.20" stroke="#4a4a4a" stroke-width="1.05"/>
<text x="161.60" y="398.60" text-anchor="middle" font-size="9.1" fill="#2a2a2a">6000</text>
<text transform="translate(66.89,309.85) scale(1.22,1)" font-size="10.5" font-style="italic" fill="#000">r</text>
<text x="75.67" y="309.85" font-size="10.5" fill="#000">=</text>
<rect x="85.30" y="306.80" width="4.7" height="0.95" fill="#000"/>
<text x="92.08" y="309.85" font-size="10.5" fill="#000">0.27,</text>
<text x="119.25" y="309.85" font-size="10.5" font-style="italic" fill="#000">p</text>
<text x="128.01" y="309.85" font-size="10.5" fill="#000">=</text>
<text x="136.62" y="309.85" font-size="10.5" fill="#000">0.072</text>
<text x="188.55" y="285.8" font-size="9.8" font-weight="bold" fill="#000">j.</text>
<circle cx="215.30" cy="328.60" r="2.1" fill="#000"/>
<circle cx="220.80" cy="327.40" r="2.1" fill="#000"/>
<circle cx="226.10" cy="326.20" r="2.1" fill="#000"/>
<circle cx="231.40" cy="329.80" r="2.1" fill="#000"/>
<circle cx="207.10" cy="330.20" r="2.1" fill="#000"/>
<circle cx="209.60" cy="332.60" r="2.1" fill="#000"/>
<circle cx="201.20" cy="332.40" r="2.1" fill="#000"/>
<circle cx="199.10" cy="334.70" r="2.1" fill="#000"/>
<circle cx="217.30" cy="332.90" r="2.1" fill="#000"/>
<circle cx="220.20" cy="334.10" r="2.1" fill="#000"/>
<circle cx="222.40" cy="334.70" r="2.1" fill="#000"/>
<circle cx="225.90" cy="331.80" r="2.1" fill="#000"/>
<circle cx="227.30" cy="336.10" r="2.1" fill="#000"/>
<circle cx="219.10" cy="338.50" r="2.1" fill="#000"/>
<circle cx="203.20" cy="337.60" r="2.1" fill="#000"/>
<circle cx="204.90" cy="339.40" r="2.1" fill="#000"/>
<circle cx="209.10" cy="339.60" r="2.1" fill="#000"/>
<circle cx="203.20" cy="341.50" r="2.1" fill="#000"/>
<circle cx="195.50" cy="343.20" r="2.1" fill="#000"/>
<circle cx="199.30" cy="343.20" r="2.1" fill="#000"/>
<circle cx="214.90" cy="343.20" r="2.1" fill="#000"/>
<circle cx="216.90" cy="345.30" r="2.1" fill="#000"/>
<circle cx="228.50" cy="344.10" r="2.1" fill="#000"/>
<circle cx="231.40" cy="343.50" r="2.1" fill="#000"/>
<circle cx="229.40" cy="338.80" r="2.1" fill="#000"/>
<circle cx="238.10" cy="340.00" r="2.1" fill="#000"/>
<circle cx="244.70" cy="336.50" r="2.1" fill="#000"/>
<circle cx="246.70" cy="332.90" r="2.1" fill="#000"/>
<circle cx="251.40" cy="331.80" r="2.1" fill="#000"/>
<circle cx="260.80" cy="335.10" r="2.1" fill="#000"/>
<circle cx="261.20" cy="337.30" r="2.1" fill="#000"/>
<circle cx="265.50" cy="335.10" r="2.1" fill="#000"/>
<circle cx="270.10" cy="335.10" r="2.1" fill="#000"/>
<circle cx="268.40" cy="341.70" r="2.1" fill="#000"/>
<circle cx="267.80" cy="347.50" r="2.1" fill="#000"/>
<circle cx="286.30" cy="345.40" r="2.1" fill="#000"/>
<circle cx="310.60" cy="350.00" r="2.1" fill="#000"/>
<circle cx="304.90" cy="355.30" r="2.1" fill="#000"/>
<circle cx="331.30" cy="355.30" r="2.1" fill="#000"/>
<path d="M195.50 331.46 L198.88 331.95 L202.27 332.44 L205.66 332.92 L209.04 333.40 L212.43 333.86 L215.81 334.32 L219.19 334.77 L222.58 335.20 L225.97 335.62 L229.35 336.02 L232.73 336.41 L236.12 336.78 L239.50 337.13 L242.89 337.47 L246.27 337.79 L249.66 338.10 L253.04 338.39 L256.43 338.67 L259.81 338.94 L263.20 339.20 L266.58 339.45 L269.97 339.70 L273.36 339.94 L276.74 340.18 L280.12 340.41 L283.51 340.63 L286.89 340.86 L290.28 341.08 L293.66 341.30 L297.05 341.51 L300.44 341.73 L303.82 341.94 L307.20 342.15 L310.59 342.36 L313.97 342.57 L317.36 342.78 L320.75 342.98 L324.13 343.19 L327.51 343.40 L330.90 343.60 L330.90 353.80 L327.51 353.27 L324.13 352.75 L320.75 352.23 L317.36 351.70 L313.97 351.18 L310.59 350.66 L307.20 350.14 L303.82 349.62 L300.44 349.10 L297.05 348.59 L293.66 348.07 L290.28 347.56 L286.89 347.05 L283.51 346.55 L280.12 346.04 L276.74 345.54 L273.36 345.05 L269.97 344.56 L266.58 344.08 L263.20 343.60 L259.81 343.13 L256.43 342.67 L253.04 342.22 L249.66 341.78 L246.27 341.36 L242.89 340.95 L239.50 340.56 L236.12 340.18 L232.73 339.82 L229.35 339.48 L225.97 339.15 L222.58 338.84 L219.19 338.54 L215.81 338.26 L212.43 337.99 L209.04 337.72 L205.66 337.47 L202.27 337.22 L198.88 336.98 L195.50 336.74 Z" fill="rgb(198,198,198)" fill-opacity="0.353"/>
<line x1="195.5" y1="334.1" x2="330.9" y2="348.7" stroke="#0000ff" stroke-width="1.7"/>
<path d="M188.55 292.10 V388.20 H338.00" fill="none" stroke="#3c3c3c" stroke-width="1.1"/>
<line x1="186.55" y1="385.45" x2="188.55" y2="385.45" stroke="#4a4a4a" stroke-width="1.05"/>
<line x1="186.55" y1="363.20" x2="188.55" y2="363.20" stroke="#4a4a4a" stroke-width="1.05"/>
<line x1="186.55" y1="341.00" x2="188.55" y2="341.00" stroke="#4a4a4a" stroke-width="1.05"/>
<line x1="186.55" y1="318.80" x2="188.55" y2="318.80" stroke="#4a4a4a" stroke-width="1.05"/>
<line x1="186.55" y1="296.60" x2="188.55" y2="296.60" stroke="#4a4a4a" stroke-width="1.05"/>
<line x1="195.10" y1="388.20" x2="195.10" y2="390.20" stroke="#4a4a4a" stroke-width="1.05"/>
<text x="195.10" y="398.60" text-anchor="middle" font-size="9.1" fill="#2a2a2a">0</text>
<line x1="241.07" y1="388.20" x2="241.07" y2="390.20" stroke="#4a4a4a" stroke-width="1.05"/>
<text x="241.07" y="398.60" text-anchor="middle" font-size="9.1" fill="#2a2a2a">2000</text>
<line x1="287.03" y1="388.20" x2="287.03" y2="390.20" stroke="#4a4a4a" stroke-width="1.05"/>
<text x="287.03" y="398.60" text-anchor="middle" font-size="9.1" fill="#2a2a2a">4000</text>
<line x1="333.00" y1="388.20" x2="333.00" y2="390.20" stroke="#4a4a4a" stroke-width="1.05"/>
<text x="333.00" y="398.60" text-anchor="middle" font-size="9.1" fill="#2a2a2a">6000</text>
<text transform="translate(223.89,309.85) scale(1.22,1)" font-size="10.5" font-style="italic" fill="#000">r</text>
<text x="232.67" y="309.85" font-size="10.5" fill="#000">=</text>
<rect x="242.30" y="306.80" width="4.7" height="0.95" fill="#000"/>
<text x="249.08" y="309.85" font-size="10.5" fill="#000">0.53,</text>
<text x="276.25" y="309.85" font-size="10.5" font-style="italic" fill="#000">p</text>
<text x="285.01" y="309.85" font-size="10.5" fill="#000">=</text>
<text x="293.62" y="309.85" font-size="10.5" fill="#000">0.00017</text>
<text x="360.35" y="285.8" font-size="9.8" font-weight="bold" fill="#000">k.</text>
<circle cx="366.80" cy="344.30" r="2.1" fill="#000"/>
<circle cx="378.60" cy="343.00" r="2.1" fill="#000"/>
<circle cx="399.70" cy="344.10" r="2.1" fill="#000"/>
<circle cx="372.50" cy="346.20" r="2.1" fill="#000"/>
<circle cx="374.30" cy="347.70" r="2.1" fill="#000"/>
<circle cx="376.70" cy="347.40" r="2.1" fill="#000"/>
<circle cx="380.50" cy="347.40" r="2.1" fill="#000"/>
<circle cx="375.30" cy="350.90" r="2.1" fill="#000"/>
<circle cx="380.90" cy="352.10" r="2.1" fill="#000"/>
<circle cx="370.40" cy="354.00" r="2.1" fill="#000"/>
<circle cx="370.80" cy="357.80" r="2.1" fill="#000"/>
<circle cx="389.40" cy="351.20" r="2.1" fill="#000"/>
<circle cx="392.20" cy="350.50" r="2.1" fill="#000"/>
<circle cx="386.60" cy="354.90" r="2.1" fill="#000"/>
<circle cx="390.30" cy="357.30" r="2.1" fill="#000"/>
<circle cx="394.10" cy="357.30" r="2.1" fill="#000"/>
<circle cx="392.20" cy="354.50" r="2.1" fill="#000"/>
<circle cx="396.90" cy="354.90" r="2.1" fill="#000"/>
<circle cx="398.80" cy="351.20" r="2.1" fill="#000"/>
<circle cx="400.70" cy="351.60" r="2.1" fill="#000"/>
<circle cx="403.00" cy="350.70" r="2.1" fill="#000"/>
<circle cx="402.80" cy="355.40" r="2.1" fill="#000"/>
<circle cx="409.60" cy="360.90" r="2.1" fill="#000"/>
<circle cx="416.30" cy="358.70" r="2.1" fill="#000"/>
<circle cx="418.10" cy="361.00" r="2.1" fill="#000"/>
<circle cx="422.70" cy="360.90" r="2.1" fill="#000"/>
<circle cx="388.50" cy="355.40" r="2.1" fill="#000"/>
<circle cx="395.50" cy="352.60" r="2.1" fill="#000"/>
<circle cx="436.90" cy="350.80" r="2.1" fill="#000"/>
<circle cx="432.30" cy="360.80" r="2.1" fill="#000"/>
<circle cx="440.00" cy="360.10" r="2.1" fill="#000"/>
<circle cx="441.40" cy="361.10" r="2.1" fill="#000"/>
<circle cx="457.70" cy="363.30" r="2.1" fill="#000"/>
<circle cx="476.40" cy="365.70" r="2.1" fill="#000"/>
<circle cx="482.00" cy="360.80" r="2.1" fill="#000"/>
<circle cx="502.70" cy="361.90" r="2.1" fill="#000"/>
<path d="M367.30 348.06 L370.69 348.56 L374.07 349.05 L377.45 349.54 L380.84 350.02 L384.23 350.50 L387.61 350.97 L391.00 351.43 L394.38 351.88 L397.76 352.33 L401.15 352.77 L404.54 353.19 L407.92 353.61 L411.31 354.02 L414.69 354.41 L418.07 354.80 L421.46 355.18 L424.85 355.55 L428.23 355.91 L431.62 356.27 L435.00 356.62 L438.38 356.97 L441.77 357.31 L445.15 357.65 L448.54 357.99 L451.93 358.32 L455.31 358.65 L458.69 358.97 L462.08 359.30 L465.47 359.62 L468.85 359.94 L472.24 360.26 L475.62 360.58 L479.00 360.90 L482.39 361.22 L485.77 361.53 L489.16 361.85 L492.54 362.16 L495.93 362.48 L499.31 362.79 L502.70 363.10 L502.70 370.10 L499.31 369.58 L495.93 369.05 L492.54 368.53 L489.16 368.01 L485.77 367.49 L482.39 366.97 L479.00 366.45 L475.62 365.94 L472.24 365.42 L468.85 364.91 L465.47 364.39 L462.08 363.88 L458.69 363.37 L455.31 362.86 L451.93 362.36 L448.54 361.85 L445.15 361.35 L441.77 360.86 L438.38 360.36 L435.00 359.88 L431.62 359.39 L428.23 358.92 L424.85 358.44 L421.46 357.98 L418.07 357.52 L414.69 357.08 L411.31 356.64 L407.92 356.21 L404.54 355.79 L401.15 355.38 L397.76 354.99 L394.38 354.60 L391.00 354.22 L387.61 353.84 L384.23 353.48 L380.84 353.12 L377.45 352.77 L374.07 352.42 L370.69 352.08 L367.30 351.74 Z" fill="rgb(198,198,198)" fill-opacity="0.353"/>
<line x1="367.3" y1="349.9" x2="502.7" y2="366.6" stroke="#0000ff" stroke-width="1.7"/>
<path d="M360.35 292.10 V388.20 H509.70" fill="none" stroke="#3c3c3c" stroke-width="1.1"/>
<line x1="358.35" y1="385.45" x2="360.35" y2="385.45" stroke="#4a4a4a" stroke-width="1.05"/>
<line x1="358.35" y1="363.20" x2="360.35" y2="363.20" stroke="#4a4a4a" stroke-width="1.05"/>
<line x1="358.35" y1="341.00" x2="360.35" y2="341.00" stroke="#4a4a4a" stroke-width="1.05"/>
<line x1="358.35" y1="318.80" x2="360.35" y2="318.80" stroke="#4a4a4a" stroke-width="1.05"/>
<line x1="358.35" y1="296.60" x2="360.35" y2="296.60" stroke="#4a4a4a" stroke-width="1.05"/>
<line x1="366.40" y1="388.20" x2="366.40" y2="390.20" stroke="#4a4a4a" stroke-width="1.05"/>
<text x="366.40" y="398.60" text-anchor="middle" font-size="9.1" fill="#2a2a2a">0</text>
<line x1="412.43" y1="388.20" x2="412.43" y2="390.20" stroke="#4a4a4a" stroke-width="1.05"/>
<text x="412.43" y="398.60" text-anchor="middle" font-size="9.1" fill="#2a2a2a">2000</text>
<line x1="458.47" y1="388.20" x2="458.47" y2="390.20" stroke="#4a4a4a" stroke-width="1.05"/>
<text x="458.47" y="398.60" text-anchor="middle" font-size="9.1" fill="#2a2a2a">4000</text>
<line x1="504.50" y1="388.20" x2="504.50" y2="390.20" stroke="#4a4a4a" stroke-width="1.05"/>
<text x="504.50" y="398.60" text-anchor="middle" font-size="9.1" fill="#2a2a2a">6000</text>
<text transform="translate(395.59,309.85) scale(1.22,1)" font-size="10.5" font-style="italic" fill="#000">r</text>
<text x="404.37" y="309.85" font-size="10.5" fill="#000">=</text>
<rect x="414.00" y="306.80" width="4.7" height="0.95" fill="#000"/>
<text x="420.78" y="309.85" font-size="10.5" fill="#000">0.73,</text>
<text x="447.95" y="309.85" font-size="10.5" font-style="italic" fill="#000">p</text>
<text x="456.71" y="309.85" font-size="10.5" fill="#000">=</text>
<text x="465.32" y="309.85" font-size="10.5" fill="#000">1.7e-08</text>
<text x="531.50" y="285.8" font-size="9.8" font-weight="bold" fill="#000">l.</text>
<circle cx="571.20" cy="310.80" r="2.1" fill="#000"/>
<circle cx="581.10" cy="314.10" r="2.1" fill="#000"/>
<circle cx="587.70" cy="317.30" r="2.1" fill="#000"/>
<circle cx="558.00" cy="317.30" r="2.1" fill="#000"/>
<circle cx="541.90" cy="322.80" r="2.1" fill="#000"/>
<circle cx="550.10" cy="326.10" r="2.1" fill="#000"/>
<circle cx="568.70" cy="323.90" r="2.1" fill="#000"/>
<circle cx="572.00" cy="322.80" r="2.1" fill="#000"/>
<circle cx="562.20" cy="327.20" r="2.1" fill="#000"/>
<circle cx="558.00" cy="330.50" r="2.1" fill="#000"/>
<circle cx="560.50" cy="329.70" r="2.1" fill="#000"/>
<circle cx="565.40" cy="330.00" r="2.1" fill="#000"/>
<circle cx="594.20" cy="328.50" r="2.1" fill="#000"/>
<circle cx="538.00" cy="331.70" r="2.1" fill="#000"/>
<circle cx="542.40" cy="333.80" r="2.1" fill="#000"/>
<circle cx="547.80" cy="334.30" r="2.1" fill="#000"/>
<circle cx="563.80" cy="334.60" r="2.1" fill="#000"/>
<circle cx="551.80" cy="337.60" r="2.1" fill="#000"/>
<circle cx="568.70" cy="338.70" r="2.1" fill="#000"/>
<circle cx="570.90" cy="337.10" r="2.1" fill="#000"/>
<circle cx="574.50" cy="338.70" r="2.1" fill="#000"/>
<circle cx="547.80" cy="340.40" r="2.1" fill="#000"/>
<circle cx="548.20" cy="343.70" r="2.1" fill="#000"/>
<circle cx="552.30" cy="344.20" r="2.1" fill="#000"/>
<circle cx="545.70" cy="346.50" r="2.1" fill="#000"/>
<circle cx="562.20" cy="341.50" r="2.1" fill="#000"/>
<circle cx="559.70" cy="346.10" r="2.1" fill="#000"/>
<circle cx="564.60" cy="346.10" r="2.1" fill="#000"/>
<circle cx="574.20" cy="345.00" r="2.1" fill="#000"/>
<circle cx="589.90" cy="340.70" r="2.1" fill="#000"/>
<circle cx="546.50" cy="359.60" r="2.1" fill="#000"/>
<circle cx="604.50" cy="331.70" r="2.1" fill="#000"/>
<circle cx="610.60" cy="327.20" r="2.1" fill="#000"/>
<circle cx="613.00" cy="327.20" r="2.1" fill="#000"/>
<circle cx="611.40" cy="337.60" r="2.1" fill="#000"/>
<circle cx="603.50" cy="347.50" r="2.1" fill="#000"/>
<circle cx="608.40" cy="349.40" r="2.1" fill="#000"/>
<circle cx="629.20" cy="342.00" r="2.1" fill="#000"/>
<circle cx="647.60" cy="338.70" r="2.1" fill="#000"/>
<circle cx="653.40" cy="333.80" r="2.1" fill="#000"/>
<circle cx="674.30" cy="338.70" r="2.1" fill="#000"/>
<path d="M538.00 330.10 L541.40 330.40 L544.79 330.68 L548.19 330.96 L551.59 331.22 L554.99 331.47 L558.38 331.70 L561.78 331.90 L565.18 332.08 L568.58 332.23 L571.98 332.34 L575.37 332.41 L578.77 332.44 L582.17 332.42 L585.56 332.36 L588.96 332.26 L592.36 332.12 L595.76 331.96 L599.15 331.78 L602.55 331.57 L605.95 331.35 L609.35 331.12 L612.75 330.88 L616.14 330.63 L619.54 330.37 L622.94 330.10 L626.34 329.83 L629.73 329.56 L633.13 329.28 L636.53 329.00 L639.92 328.72 L643.32 328.43 L646.72 328.15 L650.12 327.86 L653.51 327.57 L656.91 327.27 L660.31 326.98 L663.71 326.69 L667.11 326.39 L670.50 326.10 L673.90 325.80 L673.90 345.00 L670.50 344.66 L667.11 344.33 L663.71 343.99 L660.31 343.66 L656.91 343.33 L653.51 342.99 L650.12 342.66 L646.72 342.33 L643.32 342.01 L639.92 341.68 L636.53 341.36 L633.13 341.04 L629.73 340.72 L626.34 340.41 L622.94 340.10 L619.54 339.79 L616.14 339.49 L612.75 339.20 L609.35 338.92 L605.95 338.65 L602.55 338.39 L599.15 338.14 L595.76 337.92 L592.36 337.72 L588.96 337.54 L585.56 337.40 L582.17 337.30 L578.77 337.24 L575.37 337.23 L571.98 337.26 L568.58 337.33 L565.18 337.44 L561.78 337.58 L558.38 337.74 L554.99 337.93 L551.59 338.14 L548.19 338.36 L544.79 338.60 L541.40 338.84 L538.00 339.10 Z" fill="rgb(198,198,198)" fill-opacity="0.353"/>
<line x1="538" y1="334.6" x2="673.9" y2="335.4" stroke="#0000ff" stroke-width="1.7"/>
<path d="M531.50 292.10 V388.20 H680.80" fill="none" stroke="#3c3c3c" stroke-width="1.1"/>
<line x1="529.50" y1="385.45" x2="531.50" y2="385.45" stroke="#4a4a4a" stroke-width="1.05"/>
<line x1="529.50" y1="363.20" x2="531.50" y2="363.20" stroke="#4a4a4a" stroke-width="1.05"/>
<line x1="529.50" y1="341.00" x2="531.50" y2="341.00" stroke="#4a4a4a" stroke-width="1.05"/>
<line x1="529.50" y1="318.80" x2="531.50" y2="318.80" stroke="#4a4a4a" stroke-width="1.05"/>
<line x1="529.50" y1="296.60" x2="531.50" y2="296.60" stroke="#4a4a4a" stroke-width="1.05"/>
<line x1="537.90" y1="388.20" x2="537.90" y2="390.20" stroke="#4a4a4a" stroke-width="1.05"/>
<text x="537.90" y="398.60" text-anchor="middle" font-size="9.1" fill="#2a2a2a">0</text>
<line x1="583.87" y1="388.20" x2="583.87" y2="390.20" stroke="#4a4a4a" stroke-width="1.05"/>
<text x="583.87" y="398.60" text-anchor="middle" font-size="9.1" fill="#2a2a2a">2000</text>
<line x1="629.83" y1="388.20" x2="629.83" y2="390.20" stroke="#4a4a4a" stroke-width="1.05"/>
<text x="629.83" y="398.60" text-anchor="middle" font-size="9.1" fill="#2a2a2a">4000</text>
<line x1="675.80" y1="388.20" x2="675.80" y2="390.20" stroke="#4a4a4a" stroke-width="1.05"/>
<text x="675.80" y="398.60" text-anchor="middle" font-size="9.1" fill="#2a2a2a">6000</text>
<text transform="translate(573.49,309.85) scale(1.22,1)" font-size="10.5" font-style="italic" fill="#000">r</text>
<text x="582.27" y="309.85" font-size="10.5" fill="#000">=</text>
<rect x="591.90" y="306.80" width="4.7" height="0.95" fill="#000"/>
<text x="598.68" y="309.85" font-size="10.5" fill="#000">0.016,</text>
<text x="631.69" y="309.85" font-size="10.5" font-style="italic" fill="#000">p</text>
<text x="640.45" y="309.85" font-size="10.5" fill="#000">=</text>
<text x="649.06" y="309.85" font-size="10.5" fill="#000">0.92</text>
</svg>
</body></html>
